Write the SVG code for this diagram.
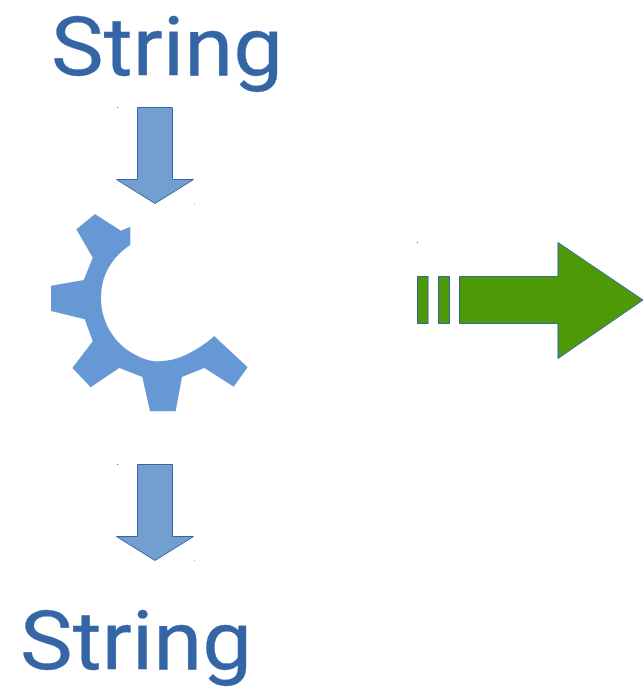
<svg xmlns="http://www.w3.org/2000/svg" width="643" height="690" viewBox="0 0 643 690">
<style>
.label{font-family:Roboto,"Liberation Sans",sans-serif;font-size:81px;fill:#3465a4;stroke:#3465a4;stroke-width:.3}
.down{fill:#729fcf;stroke:#3465a4;stroke-width:1}
.green{fill:#4e9a06;stroke:#3465a4;stroke-width:1}
.dot{fill:#3465a4}
</style>
<rect width="643" height="690" fill="#ffffff"/>
<g id="label-top"><text class="label" x="51" y="75" textLength="232" lengthAdjust="spacingAndGlyphs">String</text></g>
<g id="gear"><path fill="#6698d5" d="M95 214L121 230.700L130.300 226.700V245C111 258 101 276 101 298C101 320 112 340 130 351.700C141 358.500 149 361.300 158.300 361.300C178 361.300 197 351 214.300 336L247.700 367.300L233.700 386.700L204.300 368L182 377L175.700 411.300H150L142.300 377L119.300 368L90.700 387.300L72.300 368L92.700 341.300L84.700 319.300L51 311V285.700L83.700 280L92.700 257.700L76.300 229.300Z"/></g>
<g id="label-bottom"><text class="label" x="20" y="669" textLength="232" lengthAdjust="spacingAndGlyphs">String</text></g>
<g id="connectors">
<path class="down" d="M137.500 107.500H172.500V179.500H193.500L155 203.500L116.500 179.500H137.500Z"/>
<path class="down" d="M137.500 464.500H172.500V536.500H193.500L155 560.500L116.500 536.500H137.500Z"/>
<rect class="dot" x="117" y="107" width="1" height="1"/>
<rect class="dot" x="194" y="203" width="1" height="1" opacity=".4"/>
<rect class="dot" x="117" y="464" width="1" height="1"/>
<rect class="dot" x="194" y="560" width="1" height="1" opacity=".4"/>
<rect class="dot" x="417" y="242" width="1" height="1"/>
<g id="green-arrow">
<rect class="green" x="417.500" y="276.500" width="10.500" height="47"/>
<rect class="green" x="438.500" y="276.500" width="11" height="47"/>
<path class="green" d="M459.500 276.500H558V242.500L643 300L558 358.500V323.500H459.500Z"/>
</g>
</g>
</svg>
